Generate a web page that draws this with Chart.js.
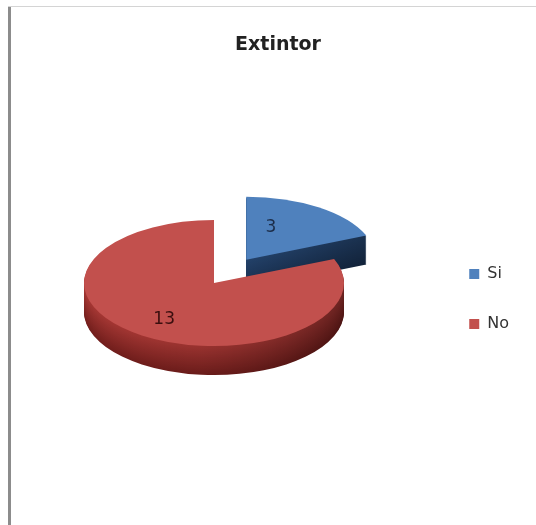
<!DOCTYPE html>
<html><head><meta charset="utf-8">
<script src="https://cdn.jsdelivr.net/npm/chart.js@4/dist/chart.umd.min.js"></script>
<style>
html,body{margin:0;padding:0;background:#fff;}
#wrap{position:relative;width:536px;height:525px;overflow:hidden;}
#frameL{position:absolute;left:8px;top:6px;width:3px;height:519px;background:#8c8c8c;}
#frameT{position:absolute;left:8px;top:6px;width:528px;height:1px;background:#d4d4d4;}
canvas{position:absolute;left:0;top:0;}
</style></head><body>
<div id="wrap"><canvas id="c" width="536" height="525"></canvas><div id="frameL"></div><div id="frameT"></div></div>
<script>
const chartTitle = 'Extintor';
const categories = ['Si', 'No'];
const values = [3, 13];
const faceColors = ['#4f81bd', '#c2504d'];
const sideTopColors = ['#24436c', '#9a3330'];
const sideBottomColors = ['#182f4e', '#6a1c1a'];
const labelColors = ['#1b2c48', '#3a0e0e'];
const explode = [58, 0];          // screen px (horizontal units)
const labelFrac = [0.55, 0.69];   // radial position of value labels
const labelAngleFrac = [0.3, 0.5];// angular position within slice

const GEOM = {cx: 214, cy: 283, rx: 130, ry: 63, depth: 29};

function hex(c){c=c.replace('#','');return [0,2,4].map(i=>parseInt(c.substr(i,2),16));}
function rgb(a){return 'rgb('+a.map(v=>Math.max(0,Math.min(255,Math.round(v)))).join(',')+')';}
function mix(a,b,t){const A=hex(a),B=hex(b);return A.map((v,i)=>v+(B[i]-v)*t);}

function drawLabels(chart, arcs, r, sx, sy) {
  const ctx = chart.ctx;
  ctx.save();
  ctx.font = '17px "DejaVu Sans"';
  ctx.textAlign = 'center';
  ctx.textBaseline = 'middle';
  arcs.forEach((arc, i) => {
    const mid = (arc.startAngle + arc.endAngle) / 2;
    const ex = Math.cos(mid) * explode[i] / sx, ey = Math.sin(mid) * explode[i] / sx;
    const a = arc.startAngle + (arc.endAngle - arc.startAngle) * labelAngleFrac[i];
    const px = Math.cos(a) * r * labelFrac[i] + ex;
    const py = Math.sin(a) * r * labelFrac[i] + ey;
    ctx.fillStyle = labelColors[i];
    ctx.fillText(String(values[i]), GEOM.cx + px * sx, GEOM.cy + py * sy);
  });
  ctx.restore();
}

const pie3d = {
  id: 'pie3d',
  beforeDatasetsDraw(chart) {
    const ctx = chart.ctx;
    const arcs = chart.getDatasetMeta(0).data;
    if (!arcs.length) return false;
    const r = arcs[0].outerRadius, ox = arcs[0].x, oy = arcs[0].y;
    const sx = GEOM.rx / r, sy = GEOM.ry / r;
    arcs.forEach((arc, i) => {
      const mid = (arc.startAngle + arc.endAngle) / 2;
      const ex = Math.cos(mid) * explode[i] / sx, ey = Math.sin(mid) * explode[i] / sx;
      const base = arc.options;
      const paint = (dy, fill) => {
        ctx.save();
        ctx.translate(GEOM.cx, GEOM.cy + dy);
        ctx.scale(sx, sy);
        ctx.translate(-ox + ex, -oy + ey);
        arc.options = Object.assign({}, base, {backgroundColor: fill, borderWidth: 0, offset: 0});
        arc.draw(ctx);
        ctx.restore();
      };
      for (let d = GEOM.depth; d >= 1; d--) {
        const c = mix(sideTopColors[i], sideBottomColors[i], d / GEOM.depth);
        const g = ctx.createLinearGradient(ox - r, 0, ox + r, 0);
        g.addColorStop(0, rgb(c.map(v => v * 1.08)));
        g.addColorStop(0.45, rgb(c));
        g.addColorStop(1, rgb(c.map(v => v * 0.72)));
        paint(d, g);
      }
      paint(0, faceColors[i]);
      arc.options = base;
    });
    drawLabels(chart, arcs, r, sx, sy);
    return false;
  }
};

new Chart(document.getElementById('c'), {
  type: 'pie',
  data: {
    labels: categories,
    datasets: [{data: values, backgroundColor: faceColors, borderWidth: 0}]
  },
  options: {
    responsive: false,
    animation: false,
    events: [],
    layout: {padding: {right: 17, left: 37}},
    plugins: {
      title: {
        display: true, text: chartTitle, color: '#222',
        font: {family: '"DejaVu Sans"', size: 19, weight: 'bold'},
        padding: {top: 34, bottom: 16}
      },
      legend: {
        position: 'right',
        fullSize: false,
        labels: {
          boxWidth: 10, boxHeight: 10, padding: 34, color: '#333',
          font: {family: '"DejaVu Sans"', size: 16}
        }
      },
      tooltip: {enabled: false}
    }
  },
  plugins: [pie3d]
});
</script>
</body></html>
